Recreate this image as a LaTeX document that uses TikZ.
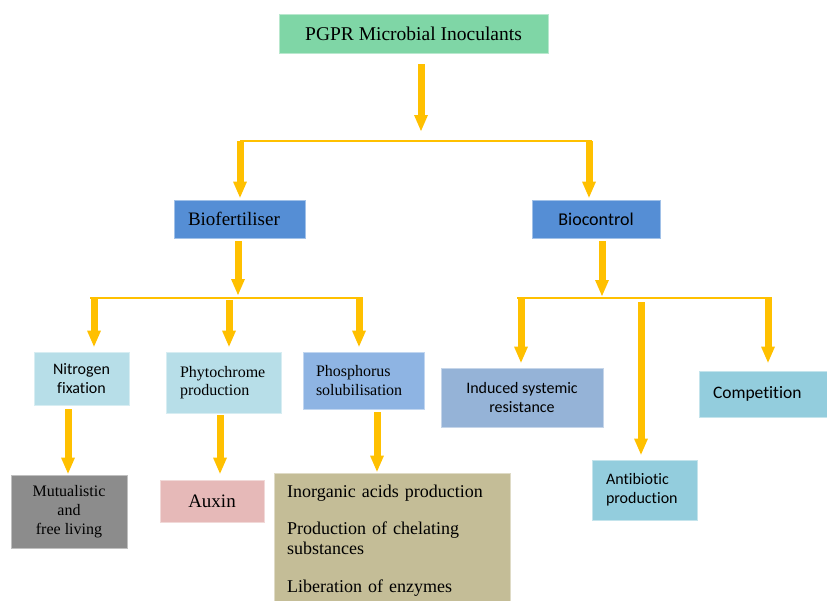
\documentclass[tikz,border=0pt]{standalone}
\usepackage{fontspec}
\setmainfont{Liberation Serif}
\newfontfamily\carl[Ligatures=NoCommon]{Carlito}
\usetikzlibrary{arrows.meta}
\definecolor{cTop}{HTML}{7FD6A6}
\definecolor{cBlue}{HTML}{558ED5}
\definecolor{cLight}{HTML}{B7DEE8}
\definecolor{cPho}{HTML}{8EB4E3}
\definecolor{cMut}{HTML}{8C8C8C}
\definecolor{cAux}{HTML}{E6B9B8}
\definecolor{cIno}{HTML}{C4BD97}
\definecolor{cIsr}{HTML}{95B3D7}
\definecolor{cComp}{HTML}{93CDDD}
\definecolor{cArr}{HTML}{FFC000}
\begin{document}
\begin{tikzpicture}[x=1pt,y=-1pt,
  box/.style={line width=0.8pt, inner sep=0pt, align=center, text=black},
  arr/.style={draw=cArr, line width=7pt, -{Triangle[length=16pt,width=14pt,line width=0pt]}},
  bar/.style={draw=cArr, line width=1.5pt},
  serifA/.style={font=\fontsize{19.5}{23}\selectfont},
  serifB/.style={font=\fontsize{16}{18.5}\selectfont},
  sansA/.style={font=\carl\fontsize{18}{21}\selectfont},
  sansB/.style={font=\carl\fontsize{16}{19.2}\selectfont}]
\useasboundingbox (0,0) rectangle (827,600);
% nodes
\node[box, serifA, fill=cTop, draw=cTop!55!white, minimum width=269pt, minimum height=39pt] (top) at (413.5,33.5) {PGPR Microbial Inoculants};
\node[box, font=\fontsize{19}{23}\selectfont, fill=cBlue, draw=cBlue!55!white, align=left, text width=103pt, inner xsep=14pt, minimum height=38pt] (bio) at (239.5,219) {Biofertiliser};
\node[box, sansA, fill=cBlue, draw=cBlue!55!white, minimum width=128pt, minimum height=38pt] (ctrl) at (596,219) {Biocontrol};
\node[box, sansB, fill=cLight, draw=cLight!55!white, minimum width=95pt, minimum height=53pt] (nit) at (81.5,378.5) {Nitrogen\\fixation};
\node[box, serifB, fill=cLight, draw=cLight!55!white, align=left, text width=87pt, inner xsep=14pt, minimum height=61pt] (phy) at (223.5,382.5) {Phytochrome\\production};
\node[box, serifB, fill=cPho, draw=cPho!55!white, align=left, text width=95pt, inner xsep=13pt, minimum height=57pt] (pho) at (363.5,380.5) {Phosphorus\\solubilisation};
\node[box, font=\fontsize{16}{19}\selectfont, fill=cMut, draw=cMut!55!white, minimum width=116pt, minimum height=73pt] (mut) at (69,511.5) {Mutualistic\\and\\free living};
\node[box, font=\fontsize{19}{23}\selectfont, fill=cAux, draw=cAux!55!white, minimum width=104pt, minimum height=42pt] (aux) at (212,501) {Auxin};
\node[box, fill=cIno, draw=cIno!55!white, minimum width=236pt, minimum height=129pt] (ino) at (392,537.5) {};
\node[inner sep=0pt, anchor=north west, align=left, text width=220pt, font=\fontsize{18}{19.3}\selectfont] (inotext) at (287,484.7)
  {Inorganic acids production\\[18.3pt]Production of chelating\\substances\\[19.1pt]Liberation of enzymes};
\node[box, sansB, fill=cIsr, draw=cIsr!55!white, minimum width=162pt, minimum height=59pt] (isr) at (522,397.5) {Induced systemic\\resistance};
\node[box, font=\carl\fontsize{17.5}{21}\selectfont, fill=cComp, draw=cComp!55!white, align=left, text width=114pt, inner xsep=14pt, minimum height=46pt] (comp) at (770,394) {Competition};
\node[box, sansB, fill=cComp, draw=cComp!55!white, align=left, text width=77pt, inner xsep=14pt, minimum height=60pt] (anti) at (644.5,490) {Antibiotic\\production};
% coordinates
\coordinate (j0) at (421,141);
\coordinate (j1L) at (240,141);
\coordinate (j1R) at (592,141);
\coordinate (d1R) at (589,141);
\coordinate (j2) at (238,298);
\coordinate (j2L) at (90,298);
\coordinate (j2R) at (363,298);
\coordinate (d2a) at (94,298);
\coordinate (d2b) at (229,298);
\coordinate (d2c) at (359,298);
\coordinate (j3) at (602,298);
\coordinate (j3L) at (517,298);
\coordinate (j3R) at (772,298);
\coordinate (d3a) at (521,298);
\coordinate (d3b) at (641,298);
\coordinate (d3c) at (768,298);
\coordinate (xn) at (68,0);
\coordinate (xp) at (220,0);
\coordinate (xh) at (377,0);
% bars
\draw[bar] (j1L) -- (j1R);
\draw[bar] (j2L) -- (j2R);
\draw[bar] (j3L) -- (j3R);
% arrows
\draw[arr, shorten <=11pt, shorten >=10pt] (top.south -| j0) -- (j0);
\draw[arr, shorten >=2pt] (j1L) -- (j1L |- bio.north);
\draw[arr, shorten >=2pt] (d1R) -- (d1R |- ctrl.north);
\draw[arr, shorten <=3pt, shorten >=3pt] (bio.south -| j2) -- (j2);
\draw[arr, shorten >=5pt] (d2a) -- (d2a |- nit.north);
\draw[arr, shorten <=2pt, shorten >=5pt] (d2b) -- (d2b |- phy.north);
\draw[arr, shorten >=5pt] (d2c) -- (d2c |- pho.north);
\draw[arr, shorten <=4pt, shorten >=1pt] (nit.south -| xn) -- (xn |- mut.north);
\draw[arr, shorten <=2pt, shorten >=6pt] (phy.south -| xp) -- (xp |- aux.north);
\draw[arr, shorten <=3pt, shorten >=1pt] (pho.south -| xh) -- (xh |- ino.north);
\draw[arr, shorten <=3pt, shorten >=2pt] (ctrl.south -| j3) -- (j3);
\draw[arr, shorten >=5pt] (d3a) -- (d3a |- isr.north);
\draw[arr, shorten <=4pt, shorten >=5pt] (d3b) -- (d3b |- anti.north);
\draw[arr, shorten >=8pt] (d3c) -- (d3c |- comp.north);
\end{tikzpicture}
\end{document}
